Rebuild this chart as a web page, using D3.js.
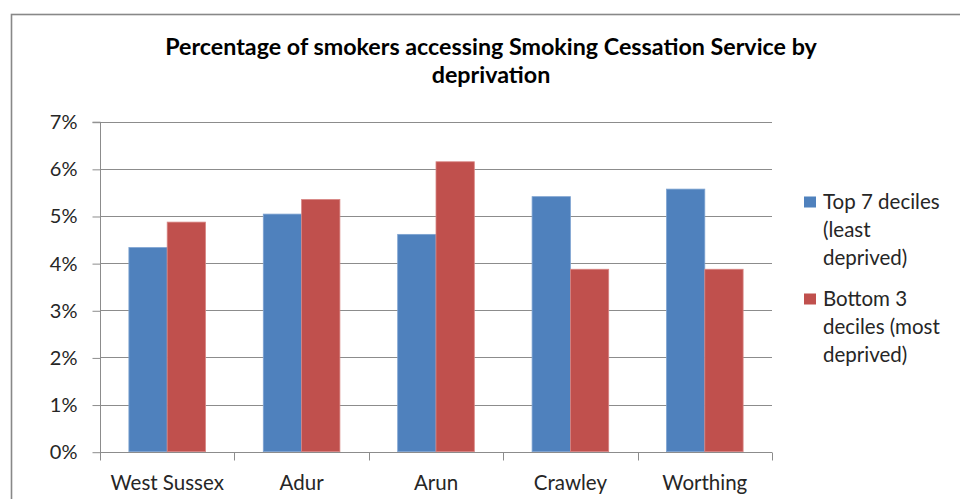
<!DOCTYPE html>
<html>
<head>
<meta charset="utf-8">
<script src="https://cdn.jsdelivr.net/npm/d3@7"></script>
<style>
  html, body { margin: 0; padding: 0; background: #fff; }
  svg { display: block; }
  text { font-family: Lato, "Open Sans", "DejaVu Sans", sans-serif; }
</style>
</head>
<body>
<svg id="chart" width="960" height="499"></svg>
<script>
// Chart data
const categories = ["West Sussex", "Adur", "Arun", "Crawley", "Worthing"];
const seriesNames = ["Top 7 deciles (least deprived)", "Bottom 3 deciles (most deprived)"];
const topDeciles = [4.33, 5.04, 4.61, 5.41, 5.57];
const bottomDeciles = [4.87, 5.35, 6.15, 3.87, 3.87];
const yTicks = [0, 1, 2, 3, 4, 5, 6, 7];
const titleLines = ["Percentage of smokers accessing Smoking Cessation Service by", "deprivation"];
const legendLines = [["Top 7 deciles", "(least", "deprived)"], ["Bottom 3", "deciles (most", "deprived)"]];

const colors = ["#4F81BD", "#C0504D"];
const edgeColors = ["#7EA3D1", "#D88583"];

const svg = d3.select("#chart");

// Outer chart frame
svg.append("rect")
  .attr("x", 11.5).attr("y", 14.5)
  .attr("width", 1000).attr("height", 600)
  .attr("fill", "none").attr("stroke", "#888").attr("stroke-width", 1.6);

// Plot area
const plot = { left: 100, right: 772, top: 121.7, bottom: 451.7 };

const x = d3.scaleBand().domain(categories).range([plot.left, plot.right]);
const y = d3.scaleLinear().domain([0, 7]).range([plot.bottom, plot.top]);

// Gridlines
svg.append("g").selectAll("line").data(yTicks).join("line")
  .attr("x1", plot.left).attr("x2", plot.right)
  .attr("y1", d => Math.round(y(d)) + 0.5).attr("y2", d => Math.round(y(d)) + 0.5)
  .attr("stroke", "#8c8c8c").attr("stroke-width", 1);

// Bars
const groupWidth = x.bandwidth() * 0.57;
const barW = groupWidth / 2;
const sub = d3.scaleBand().domain([0, 1]).range([0, groupWidth]);
const series = [topDeciles, bottomDeciles];

series.forEach((vals, si) => {
  svg.append("g").selectAll("rect").data(vals).join("rect")
    .attr("x", (d, i) => x(categories[i]) + (x.bandwidth() - groupWidth) / 2 + sub(si))
    .attr("y", d => y(d))
    .attr("width", barW)
    .attr("height", d => y(0) - y(d))
    .attr("fill", colors[si])
    .attr("stroke", edgeColors[si]).attr("stroke-width", 0.8);
});

// Y axis
const yAxis = d3.axisLeft(y).tickValues(yTicks).tickSize(8).tickPadding(15)
  .tickFormat(d => d + "%");
const gy = svg.append("g").attr("transform", `translate(${plot.left + 0.5},0.5)`).call(yAxis);
gy.select(".domain").attr("stroke", "#8c8c8c").attr("d", `M-8,${plot.top}H0V${plot.bottom}`);
gy.selectAll(".tick line").attr("stroke", "#8c8c8c");
gy.selectAll(".tick text").attr("fill", "#262626")
  .style("font-size", "20px").style("font-family", "Lato, sans-serif");

// X axis with boundary ticks between categories
const xAxisG = svg.append("g").attr("transform", `translate(0,${Math.round(plot.bottom) + 0.5})`);
xAxisG.append("line").attr("x1", plot.left).attr("x2", plot.right)
  .attr("stroke", "#8c8c8c");
const bounds = categories.map(c => x(c)).concat([plot.right]);
xAxisG.selectAll("line.tk").data(bounds).join("line").attr("class", "tk")
  .attr("x1", d => Math.round(d) + 0.5).attr("x2", d => Math.round(d) + 0.5)
  .attr("y1", 0).attr("y2", 8).attr("stroke", "#8c8c8c");
xAxisG.selectAll("text").data(categories).join("text")
  .attr("x", d => x(d) + x.bandwidth() / 2)
  .attr("y", 37)
  .attr("text-anchor", "middle")
  .attr("fill", "#262626")
  .style("font-size", "20.5px")
  .text(d => d);

// Title
const title = svg.append("g");
const t1 = title.append("text").attr("x", 491).attr("y", 55).attr("text-anchor", "middle")
  .attr("font-weight", "bold").style("font-size", "20px").attr("fill", "#000").text(titleLines[0]);
// fit the first line to its intended width
const w1 = t1.node().getComputedTextLength();
const titleSize = 20 * 652 / w1;
t1.style("font-size", titleSize + "px");
title.append("text").attr("x", 491).attr("y", 83).attr("text-anchor", "middle")
  .attr("font-weight", "bold").style("font-size", titleSize + "px").attr("fill", "#000").text(titleLines[1]);

// Legend
const legend = svg.append("g");
const legendTops = [196.5, 293.5];
legendLines.forEach((lines, li) => {
  legend.append("rect").attr("x", 804).attr("y", legendTops[li])
    .attr("width", 12).attr("height", 11).attr("fill", colors[li]);
  lines.forEach((ln, k) => {
    legend.append("text").attr("x", 823).attr("y", legendTops[li] + 12 + k * 28)
      .attr("fill", "#262626").style("font-size", "20.5px").text(ln);
  });
});
</script>
</body>
</html>
